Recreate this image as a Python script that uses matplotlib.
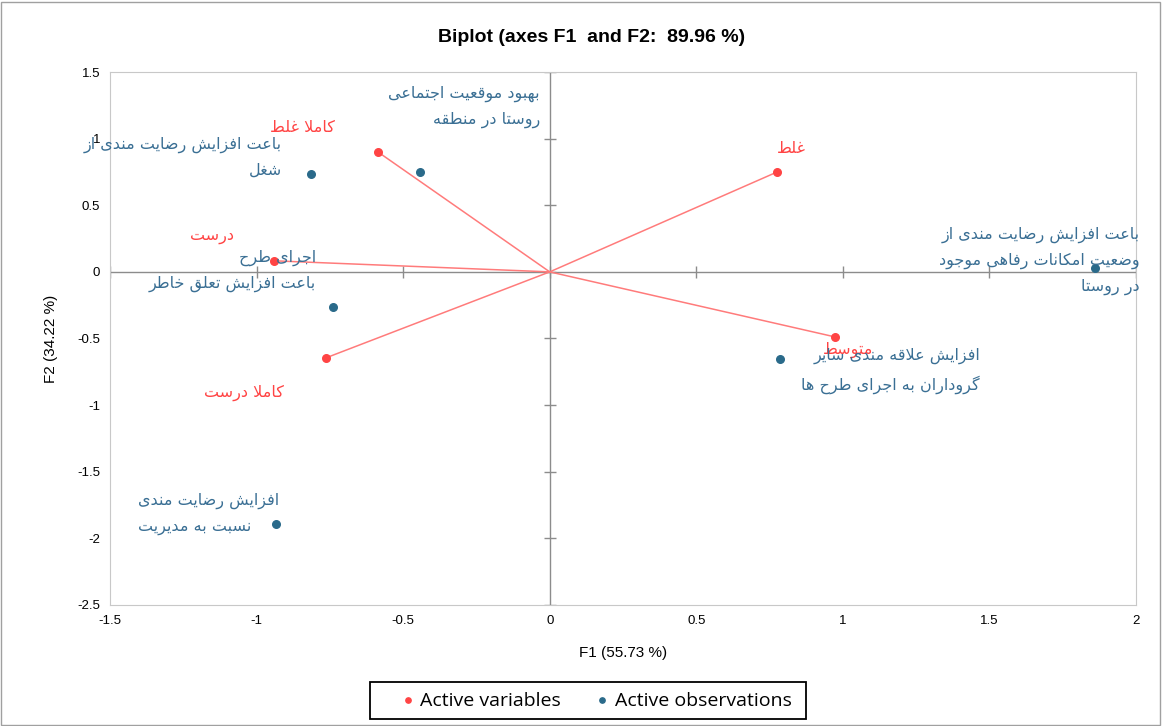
import numpy as np
import matplotlib.pyplot as plt
from matplotlib.patches import Rectangle

# ---- data ----
var_names = ["کاملا غلط", "غلط", "درست", "کاملا درست", "متوسط"]
var_f1 = [-0.586, 0.776, -0.94, -0.763, 0.973]
var_f2 = [0.90, 0.75, 0.083, -0.645, -0.488]

obs_names = [
    "باعت افزایش رضایت مندی از\nشغل",
    "بهبود موقعیت اجتماعی\nروستا در منطقه",
    "اجرای طرح\nباعت افزایش تعلق خاطر",
    "باعت افزایش رضایت مندی از\nوضعیت امکانات رفاهی موجود\nدر روستا",
    "افزایش علاقه مندی سایر\nگروداران به اجرای طرح ها",
    "افزایش رضایت مندی\nنسبت به مدیریت",
]
obs_f1 = [-0.814, -0.442, -0.739, 1.861, 0.786, -0.933]
obs_f2 = [0.735, 0.75, -0.263, 0.03, -0.653, -1.89]

x_ticks = [-1.5, -1, -0.5, 0, 0.5, 1, 1.5, 2]
y_ticks = [-2.5, -2, -1.5, -1, -0.5, 0, 0.5, 1, 1.5]

# label placement (data coords)
var_label_pos = [(-0.845, 1.08), (0.823, 0.923), (-1.152, 0.263), (-1.042, -0.908), (1.018, -0.585)]
obs_label_pos = [(-0.913, 0.863, "right"), (-0.033, 1.238, "right"), (-0.797, 0.011, "right"),
                 (2.014, 0.083, "right"), (1.468, -0.743, "right"), (-1.405, -1.816, "left")]

RED = "#ff4444"
RED_LINE = "#ff7b7b"
BLUE = "#2a6a8a"
BLUE_TXT = "#3a6f94"

# ---- tiny arabic/persian shaper (matplotlib 3.10 has no text shaping) ----
FORMS = {  # isolated, final, initial, medial
    "ا": ("\uFE8D", "\uFE8E", None, None),
    "ب": ("\uFE8F", "\uFE90", "\uFE91", "\uFE92"),
    "ت": ("\uFE95", "\uFE96", "\uFE97", "\uFE98"),
    "ج": ("\uFE9D", "\uFE9E", "\uFE9F", "\uFEA0"),
    "ح": ("\uFEA1", "\uFEA2", "\uFEA3", "\uFEA4"),
    "خ": ("\uFEA5", "\uFEA6", "\uFEA7", "\uFEA8"),
    "د": ("\uFEA9", "\uFEAA", None, None),
    "ر": ("\uFEAD", "\uFEAE", None, None),
    "ز": ("\uFEAF", "\uFEB0", None, None),
    "س": ("\uFEB1", "\uFEB2", "\uFEB3", "\uFEB4"),
    "ش": ("\uFEB5", "\uFEB6", "\uFEB7", "\uFEB8"),
    "ض": ("\uFEBD", "\uFEBE", "\uFEBF", "\uFEC0"),
    "ط": ("\uFEC1", "\uFEC2", "\uFEC3", "\uFEC4"),
    "ع": ("\uFEC9", "\uFECA", "\uFECB", "\uFECC"),
    "غ": ("\uFECD", "\uFECE", "\uFECF", "\uFED0"),
    "ف": ("\uFED1", "\uFED2", "\uFED3", "\uFED4"),
    "ق": ("\uFED5", "\uFED6", "\uFED7", "\uFED8"),
    "ل": ("\uFEDD", "\uFEDE", "\uFEDF", "\uFEE0"),
    "م": ("\uFEE1", "\uFEE2", "\uFEE3", "\uFEE4"),
    "ن": ("\uFEE5", "\uFEE6", "\uFEE7", "\uFEE8"),
    "ه": ("\uFEE9", "\uFEEA", "\uFEEB", "\uFEEC"),
    "و": ("\uFEED", "\uFEEE", None, None),
    "ک": ("\uFB8E", "\uFB8F", "\uFB90", "\uFB91"),
    "گ": ("\uFB92", "\uFB93", "\uFB94", "\uFB95"),
    "ی": ("\uFBFC", "\uFBFD", "\uFBFE", "\uFBFF"),
    "لا": ("\uFEFB", "\uFEFC", None, None),
}


def dual(ch):
    return ch in FORMS and FORMS[ch][2] is not None


def shape_line(s):
    s = s.replace("لا", "\x00")
    chars = ["لا" if c == "\x00" else c for c in s]
    out = []
    for i, c in enumerate(chars):
        if c not in FORMS:
            out.append(c)
            continue
        prev = i > 0 and dual(chars[i - 1])
        nxt = dual(c) and i + 1 < len(chars) and chars[i + 1] in FORMS
        iso, fin, ini, med = FORMS[c]
        if prev and nxt:
            out.append(med)
        elif prev:
            out.append(fin)
        elif nxt:
            out.append(ini)
        else:
            out.append(iso)
    return "".join(out)[::-1]


def fa(s):
    return "\n".join(shape_line(line) for line in s.split("\n"))


# ---- figure ----
fig = plt.figure(figsize=(11.62, 7.26), dpi=100)
fig.patches.append(Rectangle((0.001, 0.001), 0.997, 0.996, transform=fig.transFigure,
                             fill=False, edgecolor="#a0a0a0", lw=1))
ax = fig.add_axes([0.0947, 0.1667, 0.8829, 0.7341])
ax.set_xlim(-1.5, 2)
ax.set_ylim(-2.5, 1.5)
for sp in ax.spines.values():
    sp.set_color("#c8c8c8")
ax.set_xticks(x_ticks)
ax.set_yticks(y_ticks)
ax.set_xticklabels(["%g" % t for t in x_ticks])
ax.set_yticklabels(["%g" % t for t in y_ticks])
ax.tick_params(length=0, labelsize=9.5, pad=7)
for lab in ax.get_xticklabels() + ax.get_yticklabels():
    lab.set_family("Liberation Sans")

# zero axes with cross ticks
ax.axhline(0, color="#8c8c8c", lw=1, zorder=1)
ax.axvline(0, color="#8c8c8c", lw=1, zorder=1)
ax.plot(x_ticks, [0] * len(x_ticks), ls="none", marker="|", ms=8, color="#8c8c8c", zorder=1)
ax.plot([0] * len(y_ticks), y_ticks, ls="none", marker="_", ms=8, color="#8c8c8c", zorder=1)

# variable vectors
for x, y in zip(var_f1, var_f2):
    ax.plot([0, x], [0, y], color=RED_LINE, lw=1.1, zorder=2)
ax.scatter(var_f1, var_f2, s=30, color=RED, zorder=3, label="Active variables")
ax.scatter(obs_f1, obs_f2, s=30, color=BLUE, zorder=3, label="Active observations")

for name, (lx, ly) in zip(var_names, var_label_pos):
    ax.text(lx, ly, fa(name), color=RED, fontsize=11.5, ha="center", va="center",
            family="DejaVu Sans", zorder=4)
for name, (lx, ly, ha) in zip(obs_names, obs_label_pos):
    ax.text(lx, ly, fa(name), color=BLUE_TXT, fontsize=11.5, ha=ha, va="center",
            multialignment=ha, linespacing=1.8, family="DejaVu Sans", zorder=4,
            clip_on=False)

fig.text(0.509, 0.948, "Biplot (axes F1  and F2:  89.96 %)", fontsize=14, fontweight="bold",
         family="Liberation Sans", ha="center", va="center")
ax.set_xlabel("F1 (55.73 %)", fontsize=11, family="Liberation Sans", labelpad=14)
ax.set_ylabel("F2 (34.22 %)", fontsize=11, family="Liberation Sans", labelpad=14)

# legend with a hand-drawn frame (wider left padding as in the reference)
fig.patches.append(Rectangle((370 / 1162, 1 - 719 / 726), 436 / 1162, 37 / 726,
                             transform=fig.transFigure, fill=False, edgecolor="black", lw=1.3))
fig.legend(loc="center left", bbox_to_anchor=(402 / 1162, 1 - 700.5 / 726), ncol=2,
           frameon=False, handlelength=0.6, handletextpad=0.35, columnspacing=1.8,
           borderpad=0, borderaxespad=0, markerscale=0.7,
           prop={"family": "Open Sans", "size": 14})

fig.savefig("out.png", dpi=100)
